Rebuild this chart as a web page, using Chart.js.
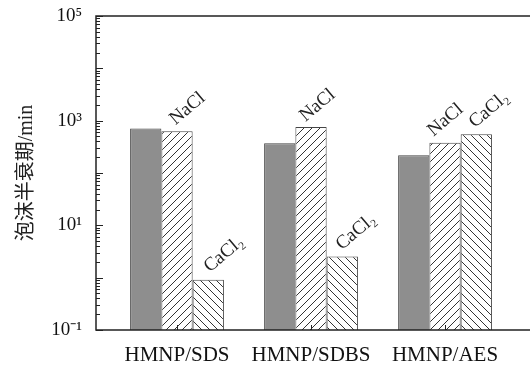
<!DOCTYPE html>
<html>
<head>
<meta charset="utf-8">
<script src="https://cdn.jsdelivr.net/npm/chart.js@4"></script>
<style>
  body { margin: 0; background: #fff; }
  #wrap { width: 530px; height: 367px; }
</style>
</head>
<body>
<div id="wrap"><canvas id="foamChart" width="530" height="367"></canvas></div>
<script>
// data
const groups = ['HMNP/SDS', 'HMNP/SDBS', 'HMNP/AES'];
const plainValues = [710, 370, 218];
const naclValues = [625, 755, 380];
const cacl2Values = [0.91, 2.55, 548];
const seriesNames = ['', 'NaCl', 'CaCl₂'];
const yTickLabels = { '-1': '10⁻¹', '1': '10¹', '3': '10³', '5': '10⁵' };

// where each rotated salt label sits, relative to its bar's top-left corner
const noteOffsets = [null, [[14, -6], [10, -5], [4, -6]], [[17, -7], [15, -6], [14, -6]]];

function hatch(dir) {
  const c = document.createElement('canvas');
  c.width = 8; c.height = 8;
  const g = c.getContext('2d');
  g.fillStyle = '#fff';
  g.fillRect(0, 0, 8, 8);
  g.strokeStyle = '#333';
  g.lineWidth = 1;
  g.beginPath();
  if (dir === '/') {
    g.moveTo(-1, 9); g.lineTo(9, -1);
    g.moveTo(-1, 1); g.lineTo(1, -1);
    g.moveTo(7, 9); g.lineTo(9, 7);
  } else {
    g.moveTo(-1, -1); g.lineTo(9, 9);
    g.moveTo(7, -1); g.lineTo(9, 1);
    g.moveTo(-1, 7); g.lineTo(1, 9);
  }
  g.stroke();
  return g.createPattern(c, 'repeat');
}

const toPoints = arr => arr.map((v, i) => ({ x: i, y: v }));

// frame + inward ticks
const axisDeco = {
  id: 'axisDeco',
  afterDraw(chart) {
    const ctx = chart.ctx;
    const a = chart.chartArea;
    const ys = chart.scales.y;
    const xs = chart.scales.x;
    ctx.save();
    ctx.strokeStyle = '#222';
    ctx.lineWidth = 1.5;
    ctx.beginPath();
    ctx.moveTo(a.right + 2, a.top);
    ctx.lineTo(a.left, a.top);
    ctx.lineTo(a.left, a.bottom);
    ctx.lineTo(a.right + 2, a.bottom);
    ctx.stroke();
    ctx.lineWidth = 1;
    ctx.beginPath();
    ys.ticks.forEach(t => {
      const e = Math.round(Math.log10(t.value));
      const major = Math.abs(t.value / Math.pow(10, e) - 1) < 1e-6;
      const y = Math.round(ys.getPixelForValue(t.value)) + 0.5;
      ctx.moveTo(a.left, y);
      ctx.lineTo(a.left + (major ? 7 : 4), y);
    });
    xs.ticks.forEach(t => {
      const x = Math.round(xs.getPixelForValue(t.value)) + 0.5;
      ctx.moveTo(x, a.bottom);
      ctx.lineTo(x, a.bottom - 5);
    });
    ctx.stroke();
    ctx.restore();
  }
};

// rotated salt labels over the hatched bars
const barNotes = {
  id: 'barNotes',
  afterDatasetsDraw(chart) {
    const ctx = chart.ctx;
    ctx.save();
    ctx.font = '19px "Liberation Serif", serif';
    ctx.fillStyle = '#222';
    ctx.textAlign = 'left';
    ctx.textBaseline = 'alphabetic';
    [1, 2].forEach(di => {
      chart.getDatasetMeta(di).data.forEach((bar, i) => {
        const left = bar.x - bar.width / 2;
        const off = noteOffsets[di][i];
        ctx.save();
        ctx.translate(left + off[0], bar.y + off[1]);
        ctx.rotate(-40 * Math.PI / 180);
        ctx.fillText(seriesNames[di], 0, 0);
        ctx.restore();
      });
    });
    ctx.restore();
  }
};

new Chart(document.getElementById('foamChart').getContext('2d'), {
  type: 'bar',
  data: {
    datasets: [{
      label: 'plain',
      data: toPoints(plainValues),
      backgroundColor: '#8e8e8e',
      borderColor: '#444',
      borderWidth: 1
    }, {
      label: 'NaCl',
      data: toPoints(naclValues),
      backgroundColor: hatch('/'),
      borderColor: '#444',
      borderWidth: 1
    }, {
      label: 'CaCl2',
      data: toPoints(cacl2Values),
      backgroundColor: hatch('\\'),
      borderColor: '#444',
      borderWidth: 1
    }]
  },
  options: {
    responsive: false,
    animation: false,
    devicePixelRatio: 1,
    layout: { padding: { top: 16, right: 0, left: 0, bottom: 0 } },
    datasets: { bar: { categoryPercentage: 0.7, barPercentage: 1.0, borderSkipped: 'start' } },
    plugins: { legend: { display: false }, tooltip: { enabled: false } },
    scales: {
      x: {
        type: 'linear',
        offset: false,
        min: -0.6045,
        max: 2.634,
        grid: { display: false, drawTicks: false },
        border: { display: false },
        afterBuildTicks: s => { s.ticks = groups.map((g, i) => ({ value: i })); },
        afterFit: s => { s.height = 37; s.paddingLeft = 0; s.paddingRight = 0; },
        ticks: {
          autoSkip: false,
          maxRotation: 0,
          padding: 13,
          color: '#111',
          font: { family: '"Liberation Serif", serif', size: 21 },
          callback: v => groups[v]
        }
      },
      y: {
        type: 'logarithmic',
        min: 0.1,
        max: 100000,
        grid: { display: false, drawTicks: false },
        border: { display: false },
        afterBuildTicks: s => {
          const t = [];
          for (let e = -1; e < 5; e++) {
            for (let m = 1; m < 10; m++) t.push({ value: m * Math.pow(10, e) });
          }
          t.push({ value: 100000 });
          s.ticks = t;
        },
        afterFit: s => { s.width = 96; s.paddingTop = 0; s.paddingBottom = 0; },
        ticks: {
          autoSkip: false,
          padding: 14,
          color: '#111',
          font: { family: '"Liberation Serif", serif', size: 19 },
          callback: v => {
            const e = Math.round(Math.log10(v));
            if (Math.abs(v / Math.pow(10, e) - 1) > 1e-6) return '';
            return yTickLabels[String(e)] || '';
          }
        },
        title: {
          display: true,
          text: '泡沫半衰期/min',
          color: '#222',
          padding: { top: 15, bottom: 0 },
          font: { family: '"Liberation Serif", "Noto Sans CJK SC", serif', size: 20, lineHeight: 1.2 }
        }
      }
    }
  },
  plugins: [axisDeco, barNotes]
});
</script>
</body>
</html>
